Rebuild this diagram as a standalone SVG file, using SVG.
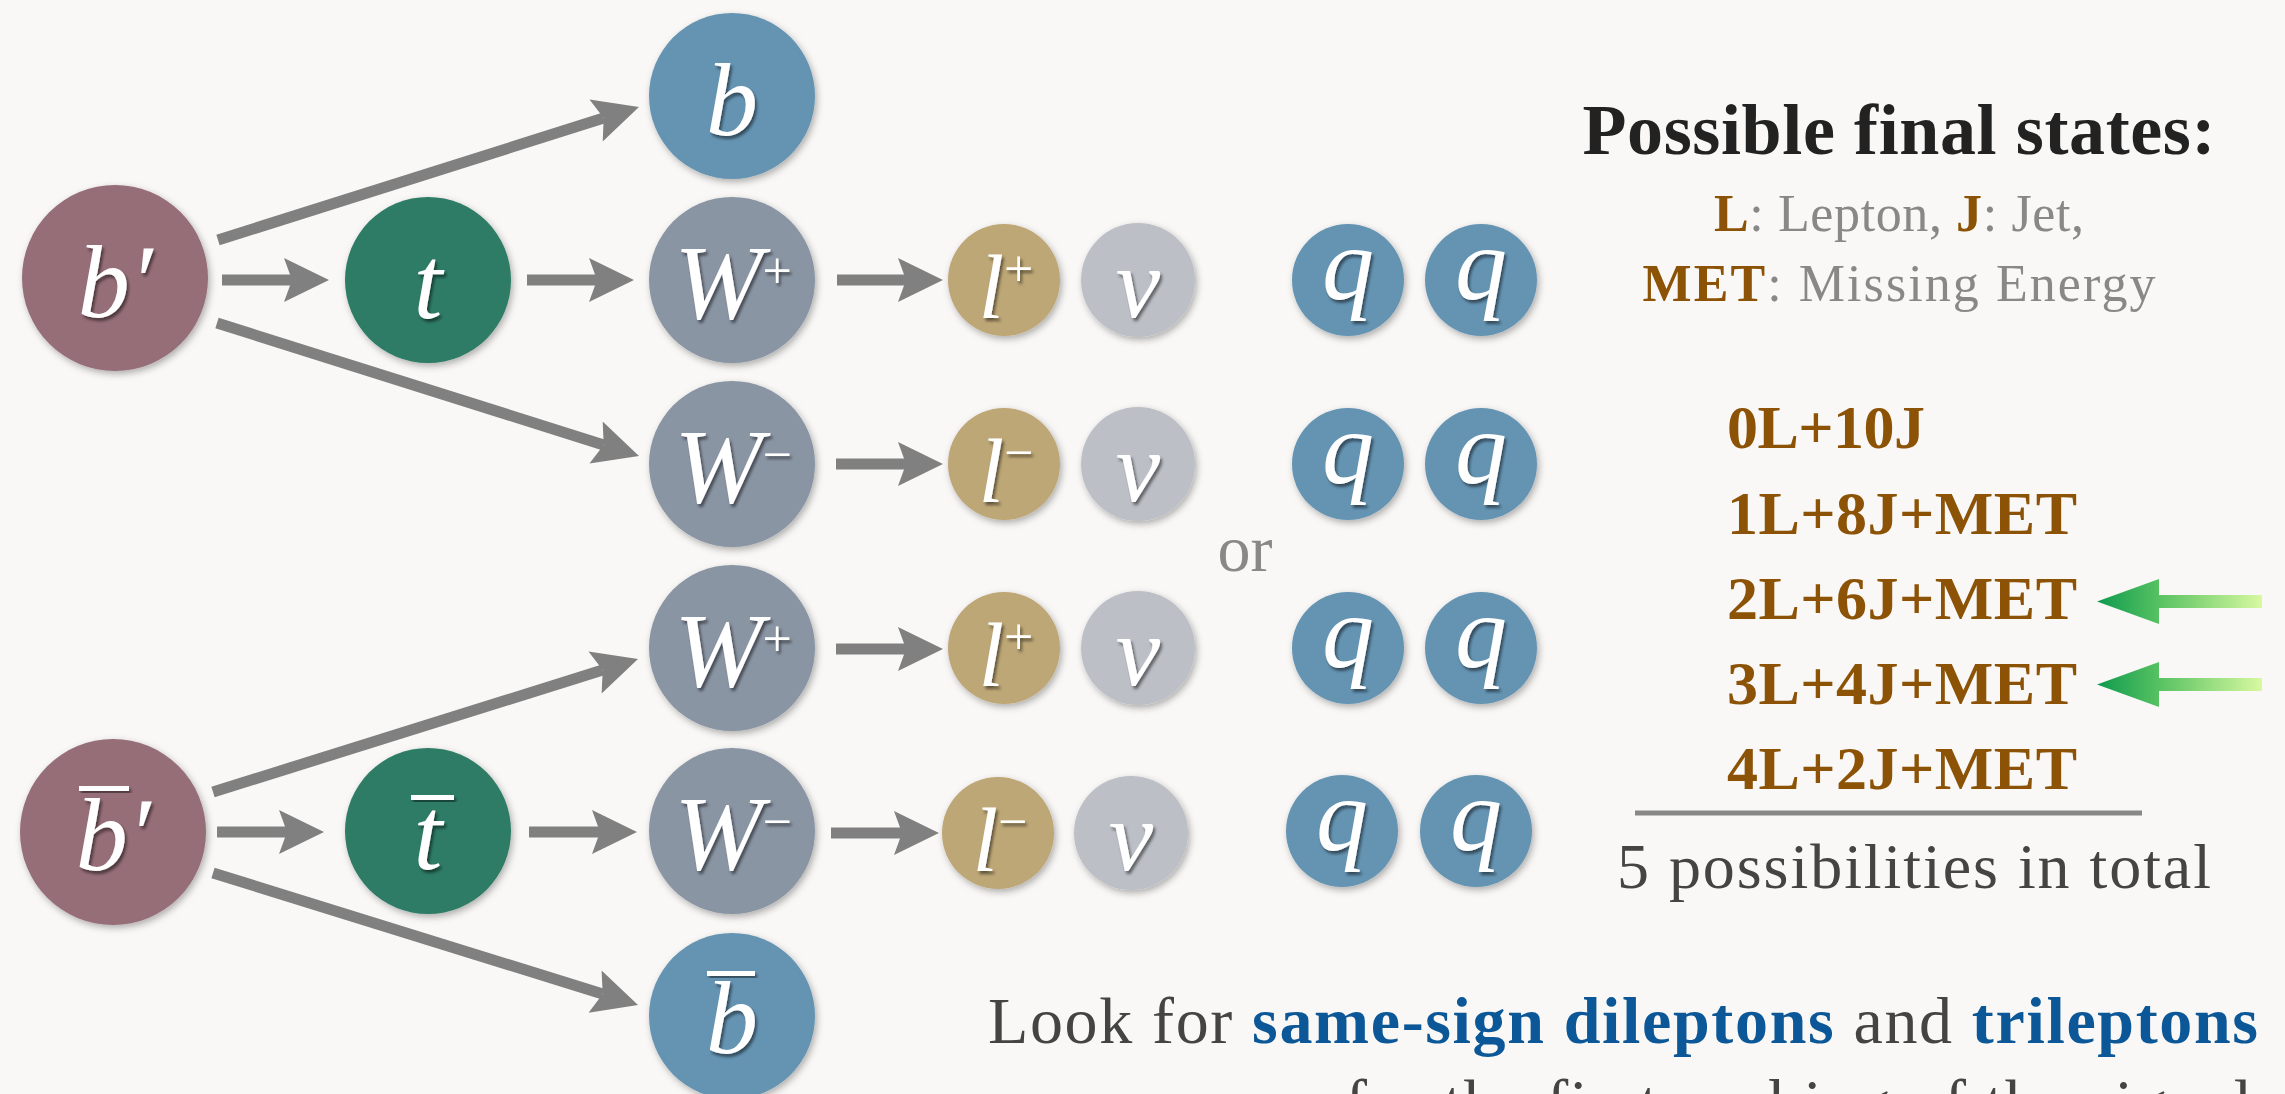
<svg xmlns="http://www.w3.org/2000/svg" width="2285" height="1094" viewBox="0 0 2285 1094">
<defs>
<style>
.lbl{font-family:"Liberation Serif","DejaVu Serif",serif;font-style:italic;fill:#fff;filter:url(#ts);}
.sup{font-style:normal;font-size:52px;}
.txt{font-family:"Liberation Serif","DejaVu Serif",serif;}
.conn{stroke:#808080;stroke-width:11;fill:none;marker-end:url(#ah);}
.bar{fill:#fff;filter:url(#ts);}
.brown{fill:#8c5206;font-weight:bold;}
</style>
<filter id="ns" x="-20%" y="-20%" width="150%" height="150%">
<feDropShadow dx="2" dy="3" stdDeviation="3.5" flood-color="#000" flood-opacity="0.3"/>
</filter>
<filter id="ts" x="-20%" y="-20%" width="150%" height="150%">
<feDropShadow dx="2" dy="3" stdDeviation="1.5" flood-color="#000" flood-opacity="0.5"/>
</filter>
<marker id="ah" markerUnits="userSpaceOnUse" markerWidth="46" markerHeight="46" viewBox="0 0 46 46" refX="8" refY="23" orient="auto">
<path d="M0,1 L45,23 L0,45 L8,23 z" fill="#808080"/>
</marker>
<linearGradient id="gg" x1="0" y1="0" x2="1" y2="0">
<stop offset="0" stop-color="#0e9a4e"/>
<stop offset="0.38" stop-color="#58c262"/>
<stop offset="1" stop-color="#d8f9a0"/>
</linearGradient>
</defs>
<rect width="2285" height="1094" fill="#f9f8f6"/>

<g id="connectors">
<line class="conn" x1="222" y1="280" x2="292" y2="280"/>
<line class="conn" x1="527" y1="280" x2="597" y2="280"/>
<line class="conn" x1="837" y1="280" x2="906" y2="280"/>
<line class="conn" x1="836" y1="464" x2="906" y2="464"/>
<line class="conn" x1="836" y1="649" x2="906" y2="649"/>
<line class="conn" x1="217" y1="832" x2="287" y2="832"/>
<line class="conn" x1="529" y1="832" x2="600" y2="832"/>
<line class="conn" x1="831" y1="833" x2="902" y2="833"/>
<line class="conn" x1="218" y1="240" x2="603.7" y2="118.1"/>
<line class="conn" x1="217" y1="323" x2="603.7" y2="444.9"/>
<line class="conn" x1="213" y1="792" x2="602.7" y2="670.1"/>
<line class="conn" x1="213" y1="873" x2="602.7" y2="994"/>
</g>

<g id="node-bprime">
<circle cx="115" cy="278" r="93" fill="#966e78" filter="url(#ns)"/>
<text class="lbl" x="115" y="317" font-size="104" text-anchor="middle">b′</text>
</g>
<g id="node-t">
<circle cx="428" cy="280" r="83" fill="#2d7b66" filter="url(#ns)"/>
<text class="lbl" x="428" y="318" font-size="104" text-anchor="middle">t</text>
</g>
<g id="node-b">
<circle cx="732" cy="96" r="83" fill="#6594b3" filter="url(#ns)"/>
<text class="lbl" x="732" y="135" font-size="104" text-anchor="middle">b</text>
</g>
<g id="node-W1">
<circle cx="732" cy="280" r="83" fill="#8a95a4" filter="url(#ns)"/>
<text class="lbl" x="733" y="318" font-size="106" text-anchor="middle">W<tspan class="sup" dy="-30">+</tspan></text>
</g>
<g id="node-l1">
<circle cx="1004" cy="280" r="56" fill="#bea776" filter="url(#ns)"/>
<text class="lbl" x="1006" y="318" font-size="92" text-anchor="middle">l<tspan class="sup" dy="-32">+</tspan></text>
</g>
<g id="node-nu1">
<circle cx="1138" cy="280" r="57" fill="#bcc0c6" filter="url(#ns)"/>
<text class="lbl" x="1138" y="317" font-size="100" text-anchor="middle">ν</text>
</g>
<g id="node-q1a">
<circle cx="1348" cy="280" r="56" fill="#6594b3" filter="url(#ns)"/>
<text class="lbl" x="1348" y="299" font-size="104" text-anchor="middle">q</text>
</g>
<g id="node-q1b">
<circle cx="1481" cy="280" r="56" fill="#6594b3" filter="url(#ns)"/>
<text class="lbl" x="1481" y="299" font-size="104" text-anchor="middle">q</text>
</g>

<g id="node-W2">
<circle cx="732" cy="464" r="83" fill="#8a95a4" filter="url(#ns)"/>
<text class="lbl" x="733" y="502" font-size="106" text-anchor="middle">W<tspan class="sup" dy="-30">−</tspan></text>
</g>
<g id="node-l2">
<circle cx="1004" cy="464" r="56" fill="#bea776" filter="url(#ns)"/>
<text class="lbl" x="1006" y="502" font-size="92" text-anchor="middle">l<tspan class="sup" dy="-32">−</tspan></text>
</g>
<g id="node-nu2">
<circle cx="1138" cy="464" r="57" fill="#bcc0c6" filter="url(#ns)"/>
<text class="lbl" x="1138" y="501" font-size="100" text-anchor="middle">ν</text>
</g>
<g id="node-q2a">
<circle cx="1348" cy="464" r="56" fill="#6594b3" filter="url(#ns)"/>
<text class="lbl" x="1348" y="483" font-size="104" text-anchor="middle">q</text>
</g>
<g id="node-q2b">
<circle cx="1481" cy="464" r="56" fill="#6594b3" filter="url(#ns)"/>
<text class="lbl" x="1481" y="483" font-size="104" text-anchor="middle">q</text>
</g>

<g id="or-label">
<text class="txt" x="1245" y="571" font-size="66" fill="#888" text-anchor="middle">or</text>
</g>

<g id="node-W3">
<circle cx="732" cy="648" r="83" fill="#8a95a4" filter="url(#ns)"/>
<text class="lbl" x="733" y="686" font-size="106" text-anchor="middle">W<tspan class="sup" dy="-30">+</tspan></text>
</g>
<g id="node-l3">
<circle cx="1004" cy="648" r="56" fill="#bea776" filter="url(#ns)"/>
<text class="lbl" x="1006" y="686" font-size="92" text-anchor="middle">l<tspan class="sup" dy="-32">+</tspan></text>
</g>
<g id="node-nu3">
<circle cx="1138" cy="648" r="57" fill="#bcc0c6" filter="url(#ns)"/>
<text class="lbl" x="1138" y="685" font-size="100" text-anchor="middle">ν</text>
</g>
<g id="node-q3a">
<circle cx="1348" cy="648" r="56" fill="#6594b3" filter="url(#ns)"/>
<text class="lbl" x="1348" y="667" font-size="104" text-anchor="middle">q</text>
</g>
<g id="node-q3b">
<circle cx="1481" cy="648" r="56" fill="#6594b3" filter="url(#ns)"/>
<text class="lbl" x="1481" y="667" font-size="104" text-anchor="middle">q</text>
</g>

<g id="node-bbarprime">
<circle cx="113" cy="832" r="93" fill="#966e78" filter="url(#ns)"/>
<text class="lbl" x="113" y="870" font-size="104" text-anchor="middle">b′</text>
<rect class="bar" x="79" y="786" width="50" height="5"/>
</g>
<g id="node-tbar">
<circle cx="428" cy="831" r="83" fill="#2d7b66" filter="url(#ns)"/>
<text class="lbl" x="428" y="869" font-size="104" text-anchor="middle">t</text>
<rect class="bar" x="411" y="795" width="43" height="5"/>
</g>
<g id="node-W4">
<circle cx="732" cy="831" r="83" fill="#8a95a4" filter="url(#ns)"/>
<text class="lbl" x="733" y="869" font-size="106" text-anchor="middle">W<tspan class="sup" dy="-30">−</tspan></text>
</g>
<g id="node-l4">
<circle cx="998" cy="833" r="56" fill="#bea776" filter="url(#ns)"/>
<text class="lbl" x="1000" y="871" font-size="92" text-anchor="middle">l<tspan class="sup" dy="-32">−</tspan></text>
</g>
<g id="node-nu4">
<circle cx="1131" cy="833" r="57" fill="#bcc0c6" filter="url(#ns)"/>
<text class="lbl" x="1131" y="870" font-size="100" text-anchor="middle">ν</text>
</g>
<g id="node-q4a">
<circle cx="1342" cy="831" r="56" fill="#6594b3" filter="url(#ns)"/>
<text class="lbl" x="1342" y="850" font-size="104" text-anchor="middle">q</text>
</g>
<g id="node-q4b">
<circle cx="1476" cy="831" r="56" fill="#6594b3" filter="url(#ns)"/>
<text class="lbl" x="1476" y="850" font-size="104" text-anchor="middle">q</text>
</g>
<g id="node-bbar">
<circle cx="732" cy="1016" r="83" fill="#6594b3" filter="url(#ns)"/>
<text class="lbl" x="732" y="1053" font-size="104" text-anchor="middle">b</text>
<rect class="bar" x="707" y="971" width="48" height="5"/>
</g>

<g id="legend">
<text class="txt" x="1899" y="154" font-size="72" font-weight="bold" fill="#222" text-anchor="middle" textLength="633">Possible final states:</text>
<text class="txt" x="1899" y="231" font-size="52" fill="#888" text-anchor="middle" textLength="370"><tspan class="brown">L</tspan>: Lepton, <tspan class="brown">J</tspan>: Jet,</text>
<text class="txt" x="1899" y="301" font-size="52" fill="#888" text-anchor="middle" textLength="513"><tspan class="brown">MET</tspan>: Missing Energy</text>
<g class="txt brown" font-size="62">
<text x="1727" y="448" textLength="198">0L+10J</text>
<text x="1727" y="534" textLength="350">1L+8J+MET</text>
<text x="1727" y="619" textLength="350">2L+6J+MET</text>
<text x="1727" y="704" textLength="350">3L+4J+MET</text>
<text x="1727" y="789" textLength="350">4L+2J+MET</text>
</g>
<line x1="1635" y1="813" x2="2142" y2="813" stroke="#888" stroke-width="5"/>
<text class="txt" x="1914" y="888" font-size="64" fill="#444" text-anchor="middle" textLength="594">5 possibilities in total</text>
<polygon points="2097,601.5 2159,579 2159,595 2262,595 2262,608 2159,608 2159,624" fill="url(#gg)"/>
<polygon points="2097,684.5 2159,662 2159,678 2262,678 2262,691 2159,691 2159,707" fill="url(#gg)"/>
</g>

<g id="caption">
<text class="txt" x="988" y="1043" font-size="66" fill="#444" textLength="1270">Look for <tspan font-weight="bold" fill="#0b5797">same-sign dileptons</tspan> and <tspan font-weight="bold" fill="#0b5797">trileptons</tspan></text>
<text class="txt" x="1345" y="1125" font-size="66" fill="#444" textLength="907">for the first probing of the signal</text>
</g>
</svg>
